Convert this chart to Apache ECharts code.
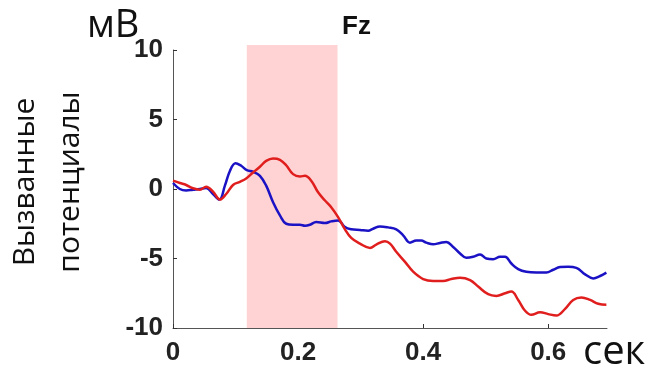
<!DOCTYPE html>
<html><head><meta charset="utf-8">
<script src="https://cdn.jsdelivr.net/npm/echarts@6/dist/echarts.min.js"></script>
<style>html,body{margin:0;padding:0;background:#fff}#c{width:652px;height:372px}</style>
</head><body><div id="c"></div>
<script>
// Time (s) and amplitude (µV) samples
const tBlue = [0,0.011,0.021,0.032,0.043,0.053,0.064,0.074,0.083,0.091,0.1,0.109,0.118,0.128,0.139,0.149,0.16,0.171,0.181,0.192,0.203,0.211,0.219,0.229,0.243,0.253,0.264,0.275,0.285,0.299,0.312,0.32,0.331,0.344,0.357,0.368,0.379,0.389,0.397,0.405,0.416,0.427,0.437,0.448,0.459,0.469,0.48,0.491,0.501,0.512,0.523,0.531,0.541,0.552,0.565,0.581,0.597,0.608,0.619,0.632,0.645,0.659,0.672,0.683,0.693];
const vBlue = [0.43,0,-0.1,-0.05,0,0.07,-0.36,-0.76,0.24,1.3,1.86,1.67,1.36,1.24,0.95,0.24,-0.95,-1.9,-2.5,-2.57,-2.57,-2.64,-2.57,-2.38,-2.45,-2.33,-2.26,-2.74,-2.9,-2.95,-3.0,-2.86,-2.69,-2.76,-2.9,-3.33,-3.86,-3.71,-3.71,-3.86,-3.98,-3.88,-3.81,-4.17,-4.64,-4.95,-4.88,-4.71,-5.0,-5.05,-4.88,-4.88,-5.36,-5.76,-5.95,-6.0,-6.0,-5.81,-5.62,-5.6,-5.67,-6.14,-6.43,-6.26,-6.02];
const tRed = [0,0.011,0.021,0.032,0.043,0.053,0.064,0.075,0.085,0.096,0.107,0.117,0.128,0.139,0.149,0.16,0.171,0.181,0.192,0.203,0.211,0.221,0.232,0.243,0.253,0.264,0.275,0.285,0.299,0.315,0.325,0.339,0.347,0.357,0.371,0.384,0.4,0.416,0.432,0.445,0.459,0.475,0.488,0.504,0.517,0.531,0.541,0.552,0.563,0.573,0.587,0.6,0.613,0.627,0.64,0.653,0.667,0.68,0.693];
const vRed = [0.6,0.43,0.29,0.05,-0.05,0.17,-0.19,-0.76,-0.36,0.29,0.52,0.76,1.19,1.6,2.02,2.19,2.1,1.71,1.07,0.9,0.95,0.6,-0.24,-0.83,-1.31,-2.02,-2.9,-3.52,-3.93,-4.24,-4.0,-3.76,-3.93,-4.52,-5.24,-5.95,-6.48,-6.62,-6.62,-6.48,-6.38,-6.55,-7.02,-7.57,-7.69,-7.5,-7.38,-7.98,-8.76,-9.05,-8.86,-9.0,-9.1,-8.62,-7.98,-7.81,-7.98,-8.26,-8.33];
const shadeStart = 0.118, shadeEnd = 0.263;
const xMin = 0, xMax = 0.694, xStep = 0.2;
const yMin = -10, yMax = 10, yStep = 5;
const titleText = 'Fz', yUnit = 'мВ', xUnit = 'сек', yName = 'Вызванные\nпотенциалы';

const pairs = (t, v) => t.map((x, i) => [x, v[i]]);
const chart = echarts.init(document.getElementById('c'), null, {renderer: 'canvas'});
const tickFont = {fontFamily: 'Liberation Sans', fontWeight: 'bold', fontSize: 26, color: '#222'};
const axisLine = {show: true, onZero: false, lineStyle: {color: '#555', width: 1}};
chart.setOption({
  animation: false,
  backgroundColor: '#fff',
  grid: [
    {left: 173, right: 45, top: 50, bottom: 44, containLabel: false},
    {left: 173, right: 45, top: 45, bottom: 44, containLabel: false}
  ],
  xAxis: [
    {type: 'value', gridIndex: 0, min: xMin, max: xMax, interval: xStep,
     axisLine: axisLine, axisTick: {show: true, inside: true, length: 4, lineStyle: {color: '#333'}},
     splitLine: {show: false}, axisLabel: Object.assign({margin: 12, showMaxLabel: false,
       formatter: v => (Math.abs(v / xStep - Math.round(v / xStep)) < 1e-6 ? (v === 0 ? '0' : v.toFixed(1)) : '')}, tickFont)},
    {type: 'value', gridIndex: 1, min: xMin, max: xMax, show: false}
  ],
  yAxis: [
    {type: 'value', gridIndex: 0, min: yMin, max: yMax, interval: yStep,
     axisLine: axisLine, axisTick: {show: true, inside: true, length: 4, lineStyle: {color: '#333'}},
     splitLine: {show: false}, axisLabel: Object.assign({margin: 10}, tickFont)},
    {type: 'value', gridIndex: 1, min: 0, max: 1, show: false}
  ],
  series: [
    {type: 'line', xAxisIndex: 1, yAxisIndex: 1, data: [], silent: true, z: 1,
     markArea: {silent: true, itemStyle: {color: '#ffd3d3', opacity: 1},
       data: [[{xAxis: shadeStart}, {xAxis: shadeEnd}]]}},
    {type: 'line', name: 'blue', data: pairs(tBlue, vBlue), smooth: 0.4, showSymbol: false, z: 3,
     lineStyle: {color: '#1a12c4', width: 2.5}},
    {type: 'line', name: 'red', data: pairs(tRed, vRed), smooth: 0.4, showSymbol: false, z: 4,
     lineStyle: {color: '#e01e1e', width: 2.5}}
  ],
  graphic: [
    {type: 'text', left: 342, top: 14, z: 10, style: {text: titleText, font: 'bold 26px "Liberation Sans"', fill: '#111'}},
    {type: 'text', x: 87, y: 26, z: 10, style: {text: yUnit, font: '38px "Open Sans"', fill: '#111', verticalAlign: 'middle', align: 'left'}},
    {type: 'text', x: 583, y: 353, z: 10, style: {text: xUnit, font: '40px "Open Sans"', fill: '#111', verticalAlign: 'middle', align: 'left'}},
    {type: 'text', x: 48, y: 182, rotation: Math.PI / 2, z: 10,
     style: {text: yName, font: '30px "Open Sans"', fill: '#111', align: 'center', verticalAlign: 'middle', lineHeight: 45}}
  ]
});
</script></body></html>
